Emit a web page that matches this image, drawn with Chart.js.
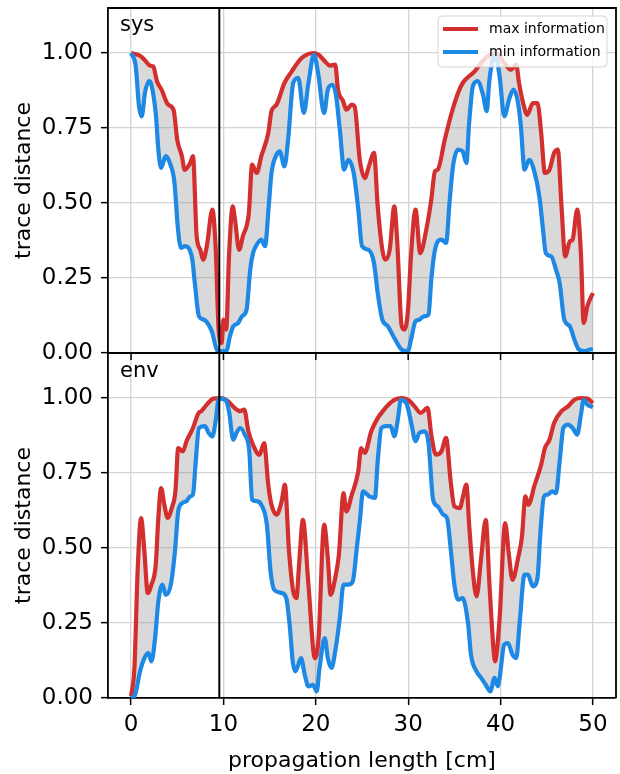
<!DOCTYPE html>
<html>
<head>
<meta charset="utf-8">
<script src="https://cdn.jsdelivr.net/npm/chart.js@4.4.1/dist/chart.umd.min.js"></script>
<style>
  html, body { margin: 0; padding: 0; background: #fff; }
  canvas { display: block; }
</style>
</head>
<body>
<canvas id="graphique" width="620" height="774"></canvas>
<script>
// valeurs
const xTicks = [0, 10, 20, 30, 40, 50];
const yTicks = [0, 0.25, 0.5, 0.75, 1.0];
const markerX = 9.55;

const sysMaxX = [0, 1.0, 1.5, 2.05, 2.4, 2.8, 3.3, 4.0, 4.6, 5.0, 5.5, 5.8, 6.4, 6.7, 7.1, 7.5, 7.8, 8.2, 8.8, 9.15, 9.5, 9.8, 10.0, 10.3, 10.6, 11.0, 11.25, 11.7, 12.1, 12.75, 13.1, 13.6, 14.1, 14.85, 15.2, 15.75, 16.6, 17.4, 18.3, 18.8, 19.7, 20.3, 21.0, 21.5, 22.1, 22.4, 22.96, 23.3, 23.9, 24.2, 24.76, 25.3, 25.8, 26.3, 26.7, 27.2, 27.5, 28.0, 28.5, 28.8, 29.3, 29.6, 29.98, 30.3, 30.8, 31.3, 31.96, 32.5, 32.9, 33.2, 33.96, 34.7, 35.4, 35.9, 37.2, 37.9, 38.6, 39.5, 40.4, 41.1, 41.7, 42.0, 42.4, 42.9, 43.5, 44.0, 44.4, 44.8, 45.3, 45.8, 46.2, 46.6, 47.0, 47.5, 47.8, 48.3, 48.7, 49.0, 49.4, 50.0];
const sysMaxY = [1.0, 0.99, 0.976, 0.958, 0.955, 0.906, 0.878, 0.828, 0.81, 0.71, 0.656, 0.61, 0.633, 0.656, 0.389, 0.344, 0.311, 0.356, 0.478, 0.356, 0.067, 0.033, 0.111, 0.078, 0.322, 0.489, 0.444, 0.344, 0.389, 0.467, 0.628, 0.6, 0.656, 0.733, 0.806, 0.828, 0.9, 0.939, 0.978, 0.991, 1.0, 0.994, 0.972, 0.958, 0.961, 0.878, 0.839, 0.811, 0.828, 0.822, 0.644, 0.583, 0.628, 0.667, 0.489, 0.344, 0.311, 0.344, 0.489, 0.378, 0.089, 0.078, 0.144, 0.322, 0.478, 0.333, 0.411, 0.511, 0.606, 0.611, 0.711, 0.8, 0.867, 0.9, 0.939, 0.967, 0.989, 1.0, 0.967, 0.944, 0.961, 0.9, 0.839, 0.794, 0.833, 0.833, 0.733, 0.6, 0.611, 0.667, 0.678, 0.489, 0.322, 0.372, 0.378, 0.478, 0.333, 0.1, 0.156, 0.2];

const sysMinX = [0, 0.5, 0.86, 1.15, 1.5, 1.95, 2.2, 2.7, 2.95, 3.25, 3.75, 4.2, 4.7, 5.05, 5.4, 5.8, 6.6, 6.9, 7.35, 7.9, 8.4, 8.8, 9.15, 9.4, 9.8, 10.3, 10.7, 11.06, 11.6, 12.0, 12.5, 12.9, 13.2, 13.6, 14.1, 14.5, 14.9, 15.2, 15.75, 16.1, 16.6, 17.0, 17.55, 18.1, 18.7, 19.2, 19.8, 20.25, 20.9, 21.3, 21.8, 22.2, 22.6, 23.07, 23.5, 24.1, 24.6, 25.0, 25.7, 26.3, 26.7, 27.2, 27.8, 28.5, 29.3, 29.98, 30.3, 30.8, 31.2, 31.7, 32.2, 32.5, 32.9, 33.6, 34.1, 34.5, 34.85, 35.4, 35.9, 36.3, 36.6, 37.0, 37.5, 38.1, 38.5, 38.8, 39.4, 39.9, 40.4, 40.97, 41.4, 41.9, 42.2, 42.6, 43.1, 43.7, 44.2, 44.6, 44.9, 45.5, 46.0, 46.4, 46.9, 47.5, 48.0, 48.5, 49.1, 49.6, 50.0];
const sysMinY = [1.0, 0.956, 0.822, 0.789, 0.867, 0.906, 0.894, 0.789, 0.678, 0.617, 0.656, 0.633, 0.567, 0.422, 0.35, 0.356, 0.317, 0.233, 0.122, 0.111, 0.094, 0.067, 0.022, 0.006, 0.006, 0.006, 0.056, 0.089, 0.1, 0.122, 0.144, 0.278, 0.333, 0.361, 0.378, 0.356, 0.489, 0.6, 0.661, 0.672, 0.622, 0.711, 0.9, 0.917, 0.8, 0.9, 0.994, 0.933, 0.8, 0.878, 0.894, 0.856, 0.744, 0.611, 0.644, 0.6, 0.478, 0.356, 0.344, 0.3, 0.2, 0.111, 0.089, 0.05, 0.011, 0.006, 0.044, 0.106, 0.111, 0.122, 0.128, 0.244, 0.344, 0.378, 0.367, 0.511, 0.622, 0.678, 0.672, 0.633, 0.767, 0.889, 0.906, 0.861, 0.806, 0.911, 0.994, 0.922, 0.789, 0.85, 0.878, 0.833, 0.756, 0.611, 0.644, 0.6, 0.522, 0.411, 0.333, 0.322, 0.278, 0.233, 0.111, 0.089, 0.044, 0.011, 0.006, 0.011, 0.013];

const envMaxX = [0, 0.36, 0.72, 1.08, 1.44, 1.8, 2.2, 2.67, 2.95, 3.25, 3.6, 3.96, 4.4, 4.8, 5.1, 5.6, 6.0, 6.7, 7.3, 7.6, 8.2, 8.9, 9.8, 10.5, 11.2, 11.8, 12.25, 12.7, 13.2, 13.9, 14.4, 14.85, 15.2, 15.75, 16.3, 16.65, 17.1, 17.55, 17.9, 18.2, 18.6, 19.2, 19.9, 20.3, 20.9, 21.3, 21.6, 22.1, 22.5, 23.0, 23.3, 23.9, 24.6, 24.9, 25.3, 26.0, 26.7, 27.3, 27.8, 28.5, 29.3, 29.98, 30.7, 31.35, 32.1, 32.5, 33.0, 33.6, 34.1, 34.6, 35.0, 35.6, 35.9, 36.3, 36.6, 37.0, 37.4, 37.9, 38.4, 38.8, 39.2, 39.4, 39.9, 40.5, 40.9, 41.3, 41.9, 42.3, 42.7, 43.0, 43.7, 44.4, 44.8, 45.3, 45.8, 46.6, 47.3, 48.0, 48.7, 49.4, 50.0];
const envMaxY = [0.006, 0.1, 0.433, 0.6, 0.489, 0.35, 0.378, 0.444, 0.6, 0.7, 0.644, 0.6, 0.633, 0.689, 0.833, 0.822, 0.856, 0.9, 0.95, 0.956, 0.978, 0.998, 1.0, 0.989, 0.967, 0.956, 0.961, 0.889, 0.844, 0.811, 0.85, 0.711, 0.644, 0.611, 0.656, 0.711, 0.489, 0.356, 0.333, 0.45, 0.594, 0.378, 0.133, 0.2, 0.578, 0.467, 0.344, 0.4, 0.478, 0.683, 0.622, 0.678, 0.756, 0.833, 0.817, 0.889, 0.933, 0.958, 0.976, 0.994, 1.0, 0.994, 0.972, 0.95, 0.967, 0.878, 0.811, 0.822, 0.867, 0.722, 0.639, 0.633, 0.667, 0.711, 0.578, 0.422, 0.339, 0.467, 0.594, 0.378, 0.178, 0.122, 0.267, 0.583, 0.478, 0.394, 0.467, 0.533, 0.672, 0.644, 0.711, 0.778, 0.833, 0.861, 0.917, 0.956, 0.972, 0.994, 1.0, 0.998, 0.983];

const envMinX = [0, 0.43, 0.97, 1.44, 1.87, 2.2, 2.6, 2.95, 3.4, 3.75, 4.3, 4.75, 5.1, 5.55, 6.0, 6.4, 6.7, 7.0, 7.35, 8.0, 8.4, 8.8, 9.15, 9.5, 10.2, 10.6, 11.06, 11.4, 11.8, 12.3, 12.8, 13.1, 13.6, 14.1, 14.7, 15.1, 15.5, 16.3, 16.8, 17.2, 17.5, 17.8, 18.4, 18.8, 19.2, 19.7, 20.1, 20.4, 20.97, 21.3, 21.7, 22.1, 22.6, 23.0, 23.5, 24.0, 24.4, 24.8, 25.1, 25.8, 26.4, 26.7, 27.1, 27.6, 28.1, 28.5, 28.9, 29.2, 29.8, 30.3, 30.8, 31.2, 31.8, 32.2, 32.7, 33.2, 33.8, 34.2, 34.7, 35.0, 35.4, 35.9, 36.5, 36.8, 37.4, 37.9, 38.4, 38.9, 39.35, 39.7, 39.9, 40.4, 40.8, 41.3, 41.7, 42.05, 42.6, 42.96, 43.5, 44.0, 44.3, 44.7, 45.1, 45.6, 46.0, 46.4, 46.8, 47.3, 47.8, 48.3, 48.7, 49.0, 49.4, 50.0];
const envMinY = [0.0, 0.011, 0.089, 0.133, 0.15, 0.122, 0.2, 0.322, 0.378, 0.344, 0.378, 0.489, 0.622, 0.65, 0.656, 0.672, 0.678, 0.789, 0.9, 0.906, 0.883, 0.872, 0.922, 0.998, 0.994, 0.956, 0.861, 0.883, 0.9, 0.878, 0.822, 0.661, 0.656, 0.644, 0.578, 0.422, 0.361, 0.35, 0.333, 0.233, 0.122, 0.089, 0.133, 0.078, 0.039, 0.044, 0.022, 0.1, 0.2, 0.133, 0.1, 0.156, 0.267, 0.378, 0.378, 0.389, 0.489, 0.6, 0.689, 0.672, 0.667, 0.789, 0.9, 0.906, 0.906, 0.872, 0.933, 0.994, 0.983, 0.922, 0.856, 0.883, 0.889, 0.85, 0.661, 0.639, 0.611, 0.6, 0.467, 0.378, 0.328, 0.333, 0.244, 0.144, 0.089, 0.067, 0.044, 0.022, 0.067, 0.039, 0.067, 0.178, 0.183, 0.144, 0.133, 0.244, 0.411, 0.411, 0.372, 0.4, 0.544, 0.672, 0.678, 0.689, 0.683, 0.789, 0.9, 0.911, 0.9, 0.878, 0.944, 0.994, 0.978, 0.969];

const rouge = '#d32f2f';
const bleu = '#1e88e5';
const grille = '#d4d4d4';

Chart.defaults.font.family = '"DejaVu Sans", sans-serif';
Chart.defaults.color = '#000';

function serie(xs, ys, couleur, axe, remplissage) {
    return {
        data: xs.map((x, i) => ({ x: x, y: ys[i] })),
        yAxisID: axe,
        borderColor: couleur,
        borderWidth: 4.2,
        pointRadius: 0,
        cubicInterpolationMode: 'monotone',
        fill: remplissage,
        backgroundColor: 'rgba(128, 128, 128, 0.3)'
    };
}

// pas de marge automatique autour des axes : la zone de tracé est fixée à la main
function sansMarge(s) {
    s.paddingTop = 0;
    s.paddingBottom = 0;
    s.paddingLeft = 0;
    s.paddingRight = 0;
}

function axeY(poids) {
    return {
        type: 'linear',
        position: 'left',
        stack: 'panneaux',
        stackWeight: 1,
        weight: poids,
        min: 0,
        max: 1.15,
        afterBuildTicks: s => { s.ticks = yTicks.map(v => ({ value: v })); },
        afterFit: s => { s.width = 108; sansMarge(s); },
        grid: { color: grille, lineWidth: 1.3, tickColor: '#000', tickLength: 7, tickWidth: 1.5 },
        border: { color: '#000', width: 1.8 },
        ticks: { font: { size: 23 }, padding: 8, callback: v => v.toFixed(2) },
        title: { display: true, text: 'trace distance', font: { size: 22 }, padding: { top: 11, bottom: 0 } }
    };
}

// cadre, ligne verticale, étiquettes des panneaux et légende
const cadrePlugin = {
    id: 'cadre',
    afterDatasetsDraw(chart) {
        const c = chart.ctx;
        const a = chart.chartArea;
        const x = chart.scales.x;
        const ySys = chart.scales.ySys;
        const milieu = ySys.bottom;

        c.save();
        c.strokeStyle = '#000';
        c.lineWidth = 2;
        const xm = x.getPixelForValue(markerX);
        c.beginPath();
        c.moveTo(xm, a.top);
        c.lineTo(xm, a.bottom);
        c.stroke();

        c.lineWidth = 1.8;
        c.beginPath();
        c.moveTo(a.left, a.top);
        c.lineTo(a.right, a.top);
        c.lineTo(a.right, a.bottom);
        c.moveTo(a.left, milieu);
        c.lineTo(a.right, milieu);
        c.stroke();

        c.lineWidth = 1.5;
        xTicks.forEach(v => {
            const px = x.getPixelForValue(v);
            c.beginPath();
            c.moveTo(px, milieu);
            c.lineTo(px, milieu + 7);
            c.stroke();
        });

        c.fillStyle = '#000';
        c.font = '21px "DejaVu Sans"';
        c.textBaseline = 'alphabetic';
        c.fillText('sys', a.left + 12, a.top + 23);
        c.fillText('env', a.left + 12, milieu + 24);

        // légende
        const lx = a.right - 178, ly = a.top + 8, lw = 169, lh = 51, r = 4;
        c.beginPath();
        c.moveTo(lx + r, ly);
        c.arcTo(lx + lw, ly, lx + lw, ly + lh, r);
        c.arcTo(lx + lw, ly + lh, lx, ly + lh, r);
        c.arcTo(lx, ly + lh, lx, ly, r);
        c.arcTo(lx, ly, lx + lw, ly, r);
        c.closePath();
        c.fillStyle = 'rgba(255, 255, 255, 0.8)';
        c.fill();
        c.strokeStyle = 'rgba(204, 204, 204, 0.8)';
        c.lineWidth = 1;
        c.stroke();

        const entrees = [['max information', rouge], ['min information', bleu]];
        c.font = '14px "DejaVu Sans"';
        c.textBaseline = 'middle';
        entrees.forEach(([texte, couleur], i) => {
            const yy = ly + 13 + i * 23;
            c.strokeStyle = couleur;
            c.lineWidth = 4;
            c.beginPath();
            c.moveTo(lx + 5, yy);
            c.lineTo(lx + 40, yy);
            c.stroke();
            c.fillStyle = '#000';
            c.fillText(texte, lx + 51, yy);
        });
        c.restore();
    }
};

const ctx = document.getElementById('graphique').getContext('2d');
new Chart(ctx, {
    type: 'line',
    data: {
        datasets: [
            serie(sysMinX, sysMinY, bleu, 'ySys', false),
            serie(sysMaxX, sysMaxY, rouge, 'ySys', '-1'),
            serie(envMinX, envMinY, bleu, 'yEnv', false),
            serie(envMaxX, envMaxY, rouge, 'yEnv', '-1')
        ]
    },
    options: {
        responsive: false,
        animation: false,
        events: [],
        layout: { padding: { top: 8, right: 4, left: 0, bottom: 0 } },
        plugins: {
            legend: { display: false },
            tooltip: { enabled: false }
        },
        scales: {
            x: {
                type: 'linear',
                position: 'bottom',
                min: -2.5,
                max: 52.5,
                afterBuildTicks: s => { s.ticks = xTicks.map(v => ({ value: v })); },
                afterFit: s => { s.height = 76; sansMarge(s); },
                grid: { color: grille, lineWidth: 1.3, tickColor: '#000', tickLength: 7, tickWidth: 1.5 },
                border: { color: '#000', width: 1.8 },
                ticks: { font: { size: 23 }, padding: 6, maxRotation: 0 },
                title: { display: true, text: 'propagation length [cm]', font: { size: 22 }, padding: { top: 0, bottom: 0 } }
            },
            yEnv: axeY(1),
            ySys: axeY(2)
        }
    },
    plugins: [cadrePlugin]
});
</script>
</body>
</html>
